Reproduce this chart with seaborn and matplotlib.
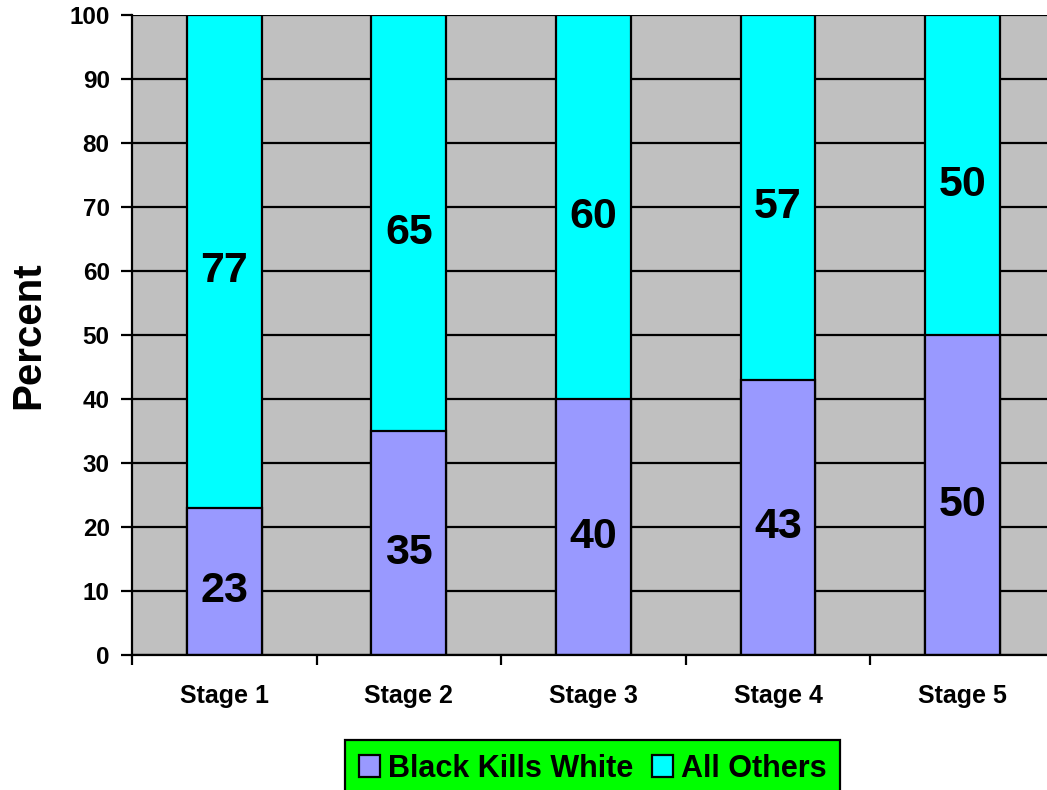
import seaborn as sns
import pandas as pd
import matplotlib.pyplot as plt
from matplotlib.patches import Patch
from matplotlib.transforms import offset_copy

stages = ['Stage 1', 'Stage 2', 'Stage 3', 'Stage 4', 'Stage 5']
black_kills_white = [23, 35, 40, 43, 50]
all_others = [77, 65, 60, 57, 50]

df = pd.DataFrame({'stage': stages, 'bkw': black_kills_white, 'others': all_others})
df['total'] = df['bkw'] + df['others']

plt.rcParams['font.family'] = ['Liberation Sans', 'DejaVu Sans']
plt.rcParams['font.weight'] = 'bold'

fig = plt.figure(figsize=(10.47, 7.9), dpi=100)
# plot area runs a bit past the right edge, as in the original
ax = fig.add_axes([0.126, 0.171, 0.8815, 0.81])
ax.set_facecolor('#c0c0c0')
ax.set_axisbelow(True)

sns.barplot(data=df, x='stage', y='total', color='#00ffff', width=0.405,
            edgecolor='black', linewidth=1.6, saturation=1, ax=ax)
sns.barplot(data=df, x='stage', y='bkw', color='#9999ff', width=0.405,
            edgecolor='black', linewidth=1.6, saturation=1, ax=ax)

# labels sit a little below the segment middle (baseline shifted down)
lab_tr = offset_copy(ax.transData, fig=fig, y=-21, units='dots')
for i, (b, o) in enumerate(zip(black_kills_white, all_others)):
    ax.text(i, b / 2, str(b), ha='center', va='baseline', fontsize=31,
            fontweight='bold', transform=lab_tr)
    ax.text(i, b + o / 2, str(o), ha='center', va='baseline', fontsize=31,
            fontweight='bold', transform=lab_tr)

ax.set_ylim(0, 100)
ax.set_xlim(-0.5, 4.5)
ax.set_yticks(range(0, 101, 10))
ax.yaxis.grid(True, color='black', linewidth=1.6)
ax.tick_params(axis='y', labelsize=17.5, length=8, width=1.6, direction='out', pad=8)
ax.set_xticks(range(5))
ax.set_xticks([i + 0.5 for i in range(-1, 5)], minor=True)
ax.tick_params(axis='x', which='major', length=0, labelsize=18, pad=21)
ax.tick_params(axis='x', which='minor', length=7, width=1.6, direction='out')
for t in ax.get_xticklabels() + ax.get_yticklabels():
    t.set_fontweight('bold')

ax.set_xlabel('')
ax.set_ylabel('Percent', fontsize=29, fontweight='bold', labelpad=16)
for s in ['top', 'right']:
    ax.spines[s].set_visible(False)
for s in ['left', 'bottom']:
    ax.spines[s].set_linewidth(1.6)

handles = [Patch(facecolor='#9999ff', edgecolor='black', linewidth=1.6),
           Patch(facecolor='#00ffff', edgecolor='black', linewidth=1.6)]
leg = fig.legend(handles, ['Black Kills White', 'All Others'], loc='center',
                 bbox_to_anchor=(0.566, 0.027), ncol=2, frameon=True, fancybox=False,
                 prop={'size': 22, 'weight': 'bold'}, handlelength=0.7, handleheight=0.7,
                 handletextpad=0.25, columnspacing=0.6, borderpad=0.45, borderaxespad=0)
leg.get_frame().set_facecolor('#00ff00')
leg.get_frame().set_edgecolor('black')
leg.get_frame().set_linewidth(1.6)
leg.get_frame().set_alpha(1)

fig.savefig('out.png', dpi=100)
